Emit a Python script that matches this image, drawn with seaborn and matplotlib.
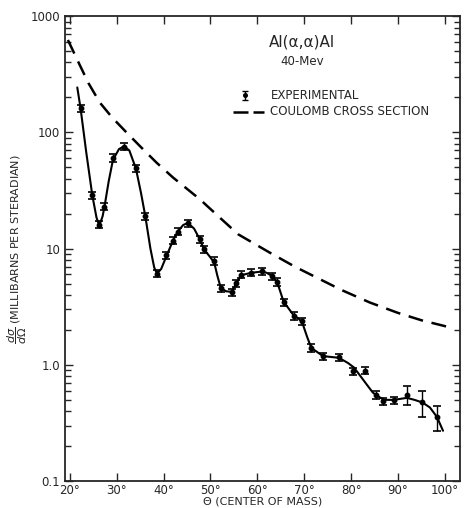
import matplotlib
matplotlib.use("Agg")
import matplotlib.pyplot as plt
import seaborn as sns
import pandas as pd
import numpy as np

# experimental points (angle in c.m. degrees, cross section mb/sr, relative error)
angle = [22.3, 24.8, 26.2, 27.4, 29.2, 31.5, 34.1, 36.1, 38.6, 40.6, 42.0, 43.0,
         45.2, 47.7, 48.6, 50.8, 52.2, 54.5, 55.5, 56.5, 58.7, 60.9, 63.2, 64.2,
         65.6, 67.8, 69.6, 71.5, 74.0, 77.4, 80.3, 82.9, 85.3, 86.9, 89.1, 91.9,
         95.2, 98.3]
xsec = [161, 28.8, 16.1, 23.0, 60.4, 75.7, 49.0, 19.1, 6.1, 8.8, 11.7, 14.0,
        16.6, 12.1, 9.9, 7.85, 4.57, 4.2, 5.05, 5.96, 6.2, 6.37, 5.77, 5.18,
        3.48, 2.64, 2.37, 1.40, 1.19, 1.16, 0.883, 0.889, 0.552, 0.488, 0.498, 0.552,
        0.475, 0.357]
rel_err = [0.07] * 35 + [0.19, 0.25, 0.25]

# hand drawn curve through the points
curve_x = [21.6, 22.3, 23.5, 24.8, 25.7, 26.3, 27.0, 27.4, 28.3, 29.2, 30.5, 31.6,
           32.7, 34.1, 35.2, 36.1, 37.2, 38.0, 38.6, 39.5, 40.6, 42.0, 43.0, 44.2,
           45.2, 46.5, 47.7, 48.6, 49.8, 50.8, 51.5, 52.2, 53.3, 54.5, 55.5, 56.5,
           58.7, 60.9, 62.0, 63.2, 64.2, 65.6, 67.8, 68.8, 69.6, 70.6, 71.5, 74.0,
           77.4, 79.3, 80.6, 81.8, 83.3, 84.6, 85.3, 87.0, 89.1, 91.9, 93.5, 95.2,
           96.8, 98.3, 99.6]
curve_y = [244, 161, 68, 28.8, 18.5, 15.8, 19.0, 23.0, 38, 58, 72, 76,
           70, 49, 30, 19.1, 10.0, 6.9, 6.1, 6.7, 8.6, 11.7, 14.0, 16.0,
           16.6, 14.9, 12.1, 9.9, 8.6, 7.6, 5.8, 4.6, 4.3, 4.25, 5.0, 5.9,
           6.2, 6.35, 6.2, 5.8, 5.2, 3.5, 2.65, 2.5, 2.3, 1.75, 1.40, 1.19,
           1.15, 1.04, 0.95, 0.82, 0.68, 0.58, 0.55, 0.50, 0.50, 0.52, 0.50, 0.475,
           0.43, 0.357, 0.271]

# coulomb cross section (dashed)
coul_x = [19.6, 22.0, 24.0, 26.4, 29.0, 32.1, 35.0, 38.5, 42.0, 47.7, 52.0, 55.9,
          62.6, 68.0, 73.3, 78.0, 84.0, 90.0, 95.0, 100.3]
coul_y = [625, 390, 265, 181, 135, 100, 76, 55, 41, 26.7, 18.5, 13.3,
          9.27, 7.0, 5.47, 4.4, 3.44, 2.8, 2.42, 2.14]

xticks = [20, 30, 40, 50, 60, 70, 80, 90, 100]
xticklabels = ["20°", "30°", "40°", "50°", "60°", "70°", "80°", "90°", "100°"]
yticks = [0.1, 1, 10, 100, 1000]
yticklabels = ["0.1", "1.0", "10", "100", "1000"]

sns.set_style("ticks")
plt.rcParams['font.family'] = ['DejaVu Sans']

fig, ax = plt.subplots(figsize=(4.65, 5.08), dpi=100)
fig.subplots_adjust(left=0.14, right=0.989, bottom=0.053, top=0.968)

errs = [v * e for v, e in zip(xsec, rel_err)]

ax.plot(coul_x, coul_y, color="black", lw=1.8, linestyle=(0, (6, 3.5)))
sns.lineplot(x=curve_x, y=curve_y, ax=ax, color="black", lw=1.5, sort=False)
ax.errorbar(angle, xsec, yerr=errs, fmt="o", color="black",
            ms=3.2, capsize=2.6, elinewidth=1.0, capthick=1.2, zorder=5)

ax.set_yscale("log")
ax.set_xlim(19.0, 103.2)
ax.set_ylim(0.1, 1000)
ax.set_xticks(xticks)
ax.set_xticklabels(xticklabels, fontsize=8.5)
ax.set_yticks(yticks)
ax.set_yticklabels(yticklabels, fontsize=8.5)
ax.tick_params(which="both", direction="in", top=True, right=True, width=1.0)
ax.tick_params(which="major", length=6)
ax.tick_params(which="minor", length=4)
ax.tick_params(axis="x", pad=2)
ax.xaxis.set_minor_locator(matplotlib.ticker.NullLocator())
for s in ax.spines.values():
    s.set_linewidth(1.3)

ax.set_xlabel("Θ (CENTER OF MASS)", fontsize=8, labelpad=0)
ax.set_ylabel(r"$\dfrac{d\sigma}{d\Omega}$ (MILLIBARNS PER STERADIAN)", fontsize=8,
              labelpad=1)

# header and key
ax.text(0.6, 0.935, "Al(α,α)Al", transform=ax.transAxes, ha="center", fontsize=11)
ax.text(0.6, 0.895, "40-Mev", transform=ax.transAxes, ha="center", fontsize=8.5)
ax.errorbar([0.455], [0.83], yerr=[0.010], transform=ax.transAxes, fmt="o",
            color="black", ms=2.6, capsize=2.2, elinewidth=1.0)
ax.text(0.52, 0.83, "EXPERIMENTAL", transform=ax.transAxes, va="center", fontsize=8.5)
ax.plot([0.425, 0.505], [0.795, 0.795], transform=ax.transAxes, color="black",
        lw=1.8, dashes=(6, 2))
ax.text(0.52, 0.795, "COULOMB CROSS SECTION", transform=ax.transAxes, va="center",
        fontsize=8.5)

fig.savefig("out.png", dpi=100)
